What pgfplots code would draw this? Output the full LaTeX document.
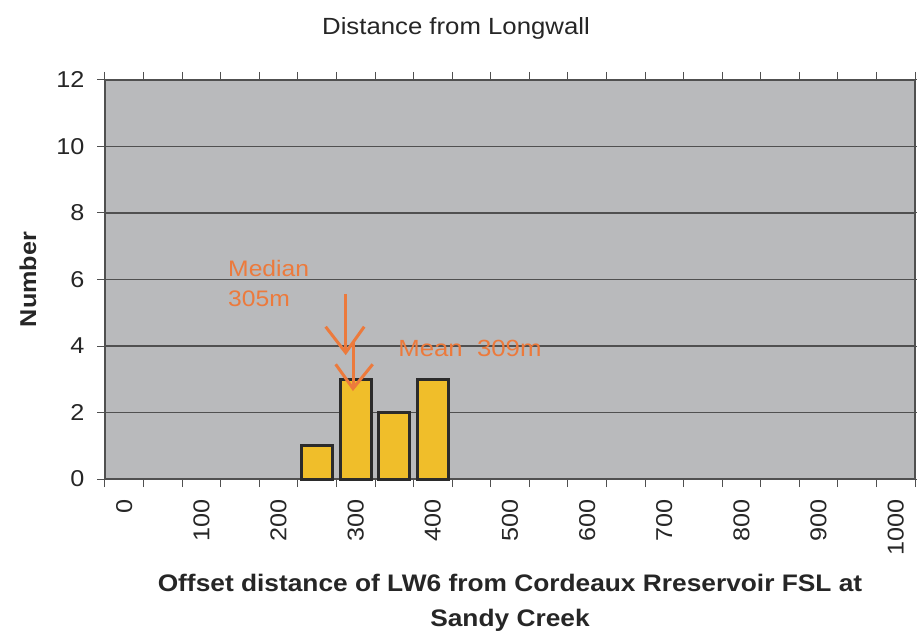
\documentclass[border=0pt]{standalone}
\usepackage{fontspec}
\setmainfont{Liberation Sans}[FakeStretch=1.1]
\usepackage{pgfplots}
\pgfplotsset{compat=1.18}
\definecolor{plotbg}{HTML}{B9BABC}
\definecolor{barfill}{HTML}{F0BE2A}
\definecolor{baredge}{HTML}{2B2B2B}
\definecolor{annot}{HTML}{EC7A3C}
\definecolor{gridc}{HTML}{505050}
\definecolor{txt}{HTML}{262626}
\begin{document}
\begin{tikzpicture}
\useasboundingbox (-105bp,-152bp) rectangle (812bp,479bp);
\begin{axis}[
  at={(0,0)}, anchor=south west,
  scale only axis,
  width=810bp, height=399bp,
  xmin=-0.5, xmax=20.5,
  ymin=0, ymax=12,
  axis background/.style={fill=plotbg},
  axis line style={draw=gridc, line width=1.2bp},
  ytick={0,2,...,12},
  xtick={-0.5,0.5,...,20.5},
  xticklabels={},
  extra x ticks={0,2,...,20},
  extra x tick labels={0,100,200,300,400,500,600,700,800,900,1000},
  extra x tick style={major tick length=0pt, grid=none, xticklabel style={yshift=-17bp, rotate=90, anchor=east}},
  tick align=outside,
  major tick length=8bp,
  tick style={draw=gridc, line width=1bp},
  ymajorgrids=true,
  xmajorgrids=false,
  grid style={draw=gridc, line width=1.2bp},
  /pgf/number format/assume math mode=true,
  tick label style={font=\fontsize{23}{23}\selectfont, text=txt},
  yticklabel style={xshift=-9bp},
  ybar,
  bar width=0.8,
  xlabel={Offset distance of LW6 from Cordeaux Rreservoir FSL at\\Sandy Creek},
  xlabel style={at={(axis description cs:0.5,-0.31)}, anchor=center, align=center, font=\fontsize{24}{35}\selectfont\bfseries, text=txt},
  ylabel={Number},
  ylabel style={at={(axis description cs:-0.095,0.5)}, anchor=center, font=\fontsize{23}{23}\selectfont\bfseries, text=txt},
  clip=false,
]
\addplot[fill=barfill, draw=baredge, line width=3bp] coordinates {(5,1) (6,3) (7,2) (8,3)};
% annotations
\node[anchor=base west, text=annot, font=\fontsize{22.5}{22}\selectfont, inner sep=0pt] at (axis cs:2.69,6.1) {Median};
\node[anchor=base west, text=annot, font=\fontsize{22.5}{22}\selectfont, inner sep=0pt] at (axis cs:2.69,5.2) {305m};
\node[anchor=base west, text=annot, font=\fontsize{23.5}{22}\selectfont, inner sep=0pt] at (axis cs:7.1,3.68) {Mean\ \ 309m};
\draw[annot, line width=3bp] (axis cs:5.74,5.57) -- (axis cs:5.74,3.80);
\draw[annot, line width=3bp, line join=miter] (axis cs:5.22,4.58) -- (axis cs:5.74,3.80) -- (axis cs:6.22,4.58);
\draw[annot, line width=3bp] (axis cs:5.93,4.16) -- (axis cs:5.93,2.72);
\draw[annot, line width=3bp, line join=miter] (axis cs:5.48,3.45) -- (axis cs:5.93,2.72) -- (axis cs:6.44,3.45);
\end{axis}
\node[font=\fontsize{23.5}{23}\selectfont, text=txt] at (351bp,451bp) {Distance from Longwall};
\end{tikzpicture}
\end{document}
